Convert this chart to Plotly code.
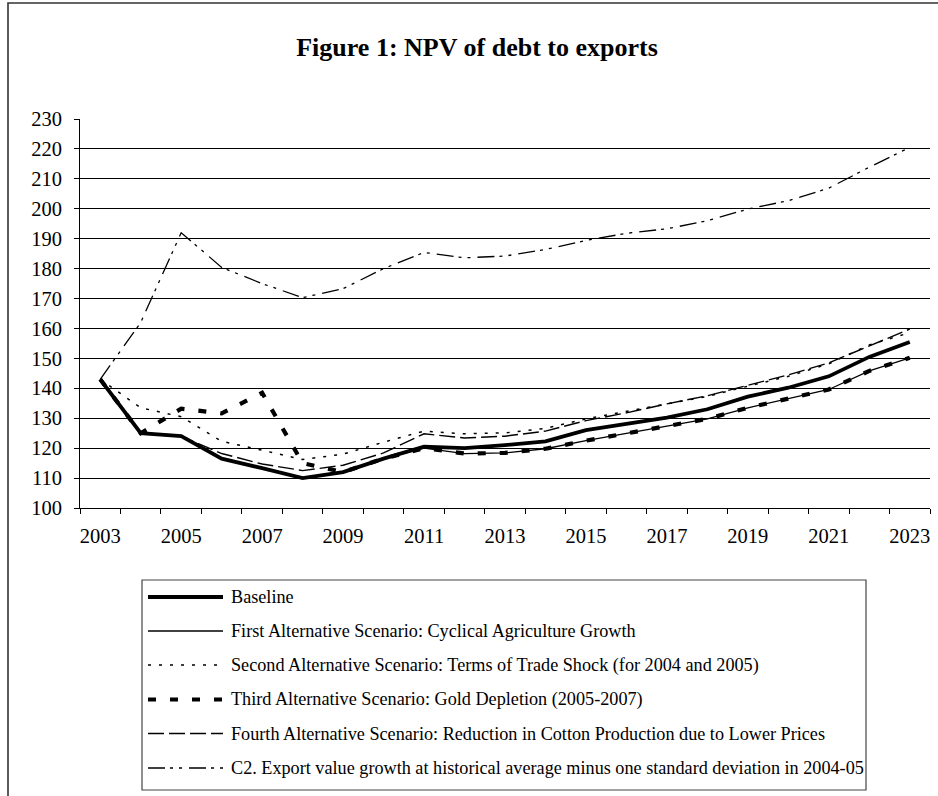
import plotly.graph_objects as go

# ---- data -------------------------------------------------------------
years = list(range(2003, 2024))

baseline = [143, 125, 124, 116.5, 113.3, 110, 112, 116.5, 120.5, 120, 121,
            122.3, 126, 128.2, 130.2, 133, 137.2, 140.2, 144, 150.5, 155.5]
first_alt = [143, 125, 124, 116.5, 113.3, 110, 112, 116.5, 120, 118.2, 118.4,
             119.8, 122.5, 125, 127.3, 129.8, 133.5, 136.5, 139.6, 145.8, 150.2]
second_alt = [143, 133.5, 130.5, 122.3, 119.3, 116.2, 118, 122, 125.7, 124.8,
              125.1, 126.6, 129.8, 132.3, 134.8, 137.3, 140.7, 144, 148.2, 154.5, 158.6]
third_alt = [143, 125, 133.2, 131.6, 138.5, 115, 112, 116.5, 120, 118.2, 118.4,
             119.8, 122.5, 125, 127.3, 129.8, 133.5, 136.5, 139.6, 145.8, 150.2]
fourth_alt = [143, 125, 124, 118.2, 114.7, 112.5, 114.3, 118.4, 124.8, 123.4, 124,
              125.7, 129.2, 131.8, 134.8, 137.5, 141, 144.5, 148.5, 154.2, 159.8]
c2_export = [143, 162, 192, 180.4, 175, 170.3, 173.3, 180, 185.4, 183.6, 184.2,
             186.4, 189.4, 191.8, 193.3, 196, 199.9, 202.7, 206.9, 213.9, 220.5]

series_names = [
    "Baseline",
    "First Alternative Scenario: Cyclical Agriculture Growth",
    "Second Alternative Scenario: Terms of Trade Shock (for 2004 and 2005)",
    "Third Alternative Scenario: Gold Depletion (2005-2007)",
    "Fourth Alternative Scenario: Reduction in Cotton Production due to Lower Prices",
    "C2. Export value growth at historical average minus one standard deviation in 2004-05",
]
series_values = [baseline, first_alt, second_alt, third_alt, fourth_alt, c2_export]

x_tick_years = list(range(2003, 2024, 2))
y_ticks = list(range(100, 231, 10))

title_text = "Figure 1: NPV of debt to exports"

# ---- styling ----------------------------------------------------------
FONT = "Liberation Serif, Times New Roman, serif"
line_styles = [
    dict(color="black", width=3.8, dash="solid"),
    dict(color="black", width=1.3, dash="solid"),
    dict(color="black", width=1.5, dash="3px,8px"),
    dict(color="black", width=4.2, dash="8px,14px"),
    dict(color="black", width=1.4, dash="16px,5px"),
    dict(color="black", width=1.3, dash="17px,5px,3px,6px,3px,7px"),
]

W, H = 938, 796
ML, MR, MT, MB = 80, 8, 119, 288
PW, PH = W - ML - MR, H - MT - MB


def px_x(x):
    return (x - ML) / PW


def px_y(y):
    return (H - MB - y) / PH


fig = go.Figure()
for name, vals, style in zip(series_names, series_values, line_styles):
    fig.add_trace(go.Scatter(x=years, y=vals, mode="lines", name=name,
                             line=style, showlegend=False, hoverinfo="skip"))

shapes = []
annotations = []

# outer frame (left and top edges)
shapes.append(dict(type="path", xref="paper", yref="paper",
                   path=f"M {px_x(8)},{px_y(H + 5)} L {px_x(8)},{px_y(3)} L {px_x(W + 5)},{px_y(3)}",
                   line=dict(color="#333", width=1.6)))

# legend box
lx0, ly0, lx1, ly1 = 142, 580, 866, 790
shapes.append(dict(type="rect", xref="paper", yref="paper",
                   x0=px_x(lx0), x1=px_x(lx1), y0=px_y(ly1), y1=px_y(ly0),
                   line=dict(color="#444", width=1.2), fillcolor="white"))
row_y = [597, 631, 665, 699.5, 733.5, 768]
for name, style, ry in zip(series_names, line_styles, row_y):
    shapes.append(dict(type="line", xref="paper", yref="paper",
                       x0=px_x(148), x1=px_x(223), y0=px_y(ry), y1=px_y(ry),
                       line=style))
    annotations.append(dict(text=name, xref="paper", yref="paper",
                            x=px_x(229), y=px_y(ry), xanchor="left", yanchor="middle",
                            showarrow=False, font=dict(family=FONT, size=18.2, color="black")))

fig.update_layout(
    width=W, height=H,
    margin=dict(l=ML, r=MR, t=MT, b=MB, pad=0),
    paper_bgcolor="white", plot_bgcolor="white",
    title=dict(text=f"<b>{title_text}</b>", x=477 / W, xanchor="center",
               y=1 - 47 / H, yanchor="middle",
               font=dict(family=FONT, size=26, color="black")),
    font=dict(family=FONT, color="black"),
    shapes=shapes,
    annotations=annotations,
    xaxis=dict(range=[2002.5, 2023.5], tickmode="array", tickvals=x_tick_years,
               ticktext=[str(y) for y in x_tick_years], ticks="", showgrid=False,
               showline=True, linecolor="black", linewidth=1, zeroline=False,
               tickfont=dict(family=FONT, size=20.5, color="black"),
               ticklabelstandoff=9,
               minor=dict(tickmode="array", tickvals=[y - 0.5 for y in years] + [2023.5],
                          ticks="outside", ticklen=5, tickcolor="black", tickwidth=1,
                          showgrid=False)),
    yaxis=dict(range=[100, 230], tickmode="array", tickvals=y_ticks,
               showgrid=True, gridcolor="black", gridwidth=1,
               ticks="outside", ticklen=5, tickcolor="black",
               showline=True, linecolor="black", linewidth=1, zeroline=False,
               tickfont=dict(family=FONT, size=20.5, color="black"),
               ticklabelstandoff=8),
)

fig.write_html("out.html")
